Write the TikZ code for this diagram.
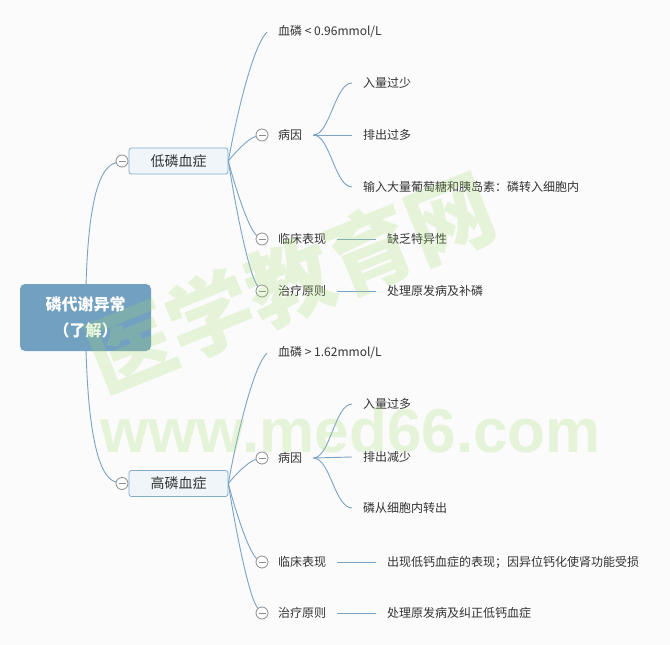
\documentclass[tikz,border=0pt]{standalone}
\usepackage{fontspec}
\setmainfont{Noto Sans CJK SC}
\newfontfamily\wmfont{Liberation Sans}
\usetikzlibrary{calc}
\definecolor{bgc}{RGB}{251,251,251}
\definecolor{connc}{RGB}{122,163,197}
\definecolor{rootfill}{RGB}{114,160,192}
\definecolor{topfill}{RGB}{239,245,249}
\definecolor{topborder}{RGB}{132,172,203}
\definecolor{txtc}{RGB}{51,51,51}
\definecolor{ringc}{RGB}{140,140,140}
\definecolor{wmc}{RGB}{160,218,110}
\begin{document}
\begin{tikzpicture}[x=1pt,y=-1pt,
  conn/.style={draw=connc, line width=0.9pt},
  rootbox/.style={fill=rootfill, rounded corners=5pt, minimum width=131pt, minimum height=67pt,
    text=white, font=\fontsize{16}{26}\selectfont\bfseries, align=center, inner sep=0pt},
  topicbox/.style={draw=topborder, fill=topfill, rounded corners=2.5pt, minimum width=99pt,
    minimum height=26pt, inner sep=0pt, text=txtc, font=\fontsize{14}{16}\selectfont, line width=0.8pt},
  subtopic/.style={anchor=west, inner xsep=11pt, inner ysep=0pt, text=txtc, font=\fontsize{12}{14}\selectfont},
  toggle/.style={circle, draw=ringc, fill=white, minimum size=12pt, inner sep=0pt, line width=0.8pt,
    path picture={\draw[ringc, line width=0.8pt] ([xshift=-3.5pt]path picture bounding box.center) -- ([xshift=3.5pt]path picture bounding box.center);}},
  wmcn/.style={text=wmc, text opacity=0.24, font=\fontsize{86}{86}\selectfont\bfseries, inner sep=0pt},
  wmen/.style={text=wmc, text opacity=0.24, font=\wmfont\fontsize{62}{62}\selectfont\bfseries, inner sep=0pt, anchor=base west}
]
\fill[bgc] (0,0) rectangle (670,645);
\useasboundingbox (0,0) rectangle (670,645);

% nodes
\node[topicbox] (lo) at (178.5,161) {低磷血症};
\node[toggle] (tlo) at (122,161) {};
\node[topicbox] (hi) at (178.5,483.5) {高磷血症};
\node[toggle] (thi) at (122,483.5) {};

\node[subtopic] (lo1) at (267,32) {血磷 < 0.96mmol/L};
\node[toggle] (tlo2) at (262,135) {};
\node[subtopic] (lo2) at (267,135) {病因};
\node[toggle] (tlo3) at (262,239) {};
\node[subtopic] (lo3) at (267,239) {临床表现};
\node[toggle] (tlo4) at (262,291) {};
\node[subtopic] (lo4) at (267,291) {治疗原则};

\node[subtopic] (lo21) at (352,83) {入量过少};
\node[subtopic] (lo22) at (352,135) {排出过多};
\node[subtopic] (lo23) at (352,187) {输入大量葡萄糖和胰岛素：磷转入细胞内};
\node[subtopic] (lo31) at (376,239) {缺乏特异性};
\node[subtopic] (lo41) at (376,291) {处理原发病及补磷};

\node[subtopic] (hi1) at (267,353) {血磷 > 1.62mmol/L};
\node[toggle] (thi2) at (262,458) {};
\node[subtopic] (hi2) at (267,458) {病因};
\node[toggle] (thi3) at (262,562) {};
\node[subtopic] (hi3) at (267,562) {临床表现};
\node[toggle] (thi4) at (262,613) {};
\node[subtopic] (hi4) at (267,613) {治疗原则};

\node[subtopic] (hi21) at (352,404) {入量过多};
\node[subtopic] (hi22) at (352,457) {排出减少};
\node[subtopic] (hi23) at (352,508) {磷从细胞内转出};
\node[subtopic] (hi31) at (376,562) {出现低钙血症的表现；因异位钙化使肾功能受损};
\node[subtopic] (hi41) at (376,613) {处理原发病及纠正低钙血症};

% root connectors (under root box)
\coordinate (rc) at (85.5,317.5);
\draw[conn] (rc) .. controls (86,215) and (96,168) .. (tlo);
\draw[conn] (rc) .. controls (86,420) and (96,477) .. (thi);
\node[rootbox] (root) at (rc) {磷代谢异常\\（了解）};

% level 2 connectors
\draw[conn] (lo.east) .. controls (233.9,128.8) and (251.4,47.5) .. (lo1.west);
\draw[conn] (lo.east) .. controls (233.1,154.5) and (248.4,138.1) .. (tlo2);
\draw[conn] (lo.east) .. controls (233.1,180.5) and (248.4,229.6) .. (tlo3);
\draw[conn] (lo.east) .. controls (233.1,193.5) and (248.4,275.4) .. (tlo4);

\draw[conn] (hi.east) .. controls (233.9,450.9) and (251.4,368.7) .. (hi1.west);
\draw[conn] (hi.east) .. controls (233.1,477.1) and (248.4,461.1) .. (thi2);
\draw[conn] (hi.east) .. controls (233.1,503.1) and (248.4,552.6) .. (thi3);
\draw[conn] (hi.east) .. controls (233.1,515.9) and (248.4,597.5) .. (thi4);

% level 3 connectors
\draw[conn] (lo2.east) .. controls (330,135) and (335,83) .. (lo21.west);
\draw[conn] (lo2.east) -- (lo22.west);
\draw[conn] (lo2.east) .. controls (330,135) and (335,187) .. (lo23.west);
\draw[conn] (lo3.east) -- (lo31.west);
\draw[conn] (lo4.east) -- (lo41.west);

\draw[conn] (hi2.east) .. controls (330,458) and (335,404) .. (hi21.west);
\draw[conn] (hi2.east) -- (hi22.west);
\draw[conn] (hi2.east) .. controls (330,458) and (335,508) .. (hi23.west);
\draw[conn] (hi3.east) -- (hi31.west);
\draw[conn] (hi4.east) -- (hi41.west);

% watermark
\node[wmcn, rotate=22] (wm1) at (290,282) {医学教育网};
\node[wmen] (wm2) at (100,452) {www.med66.com};
\end{tikzpicture}
\end{document}
